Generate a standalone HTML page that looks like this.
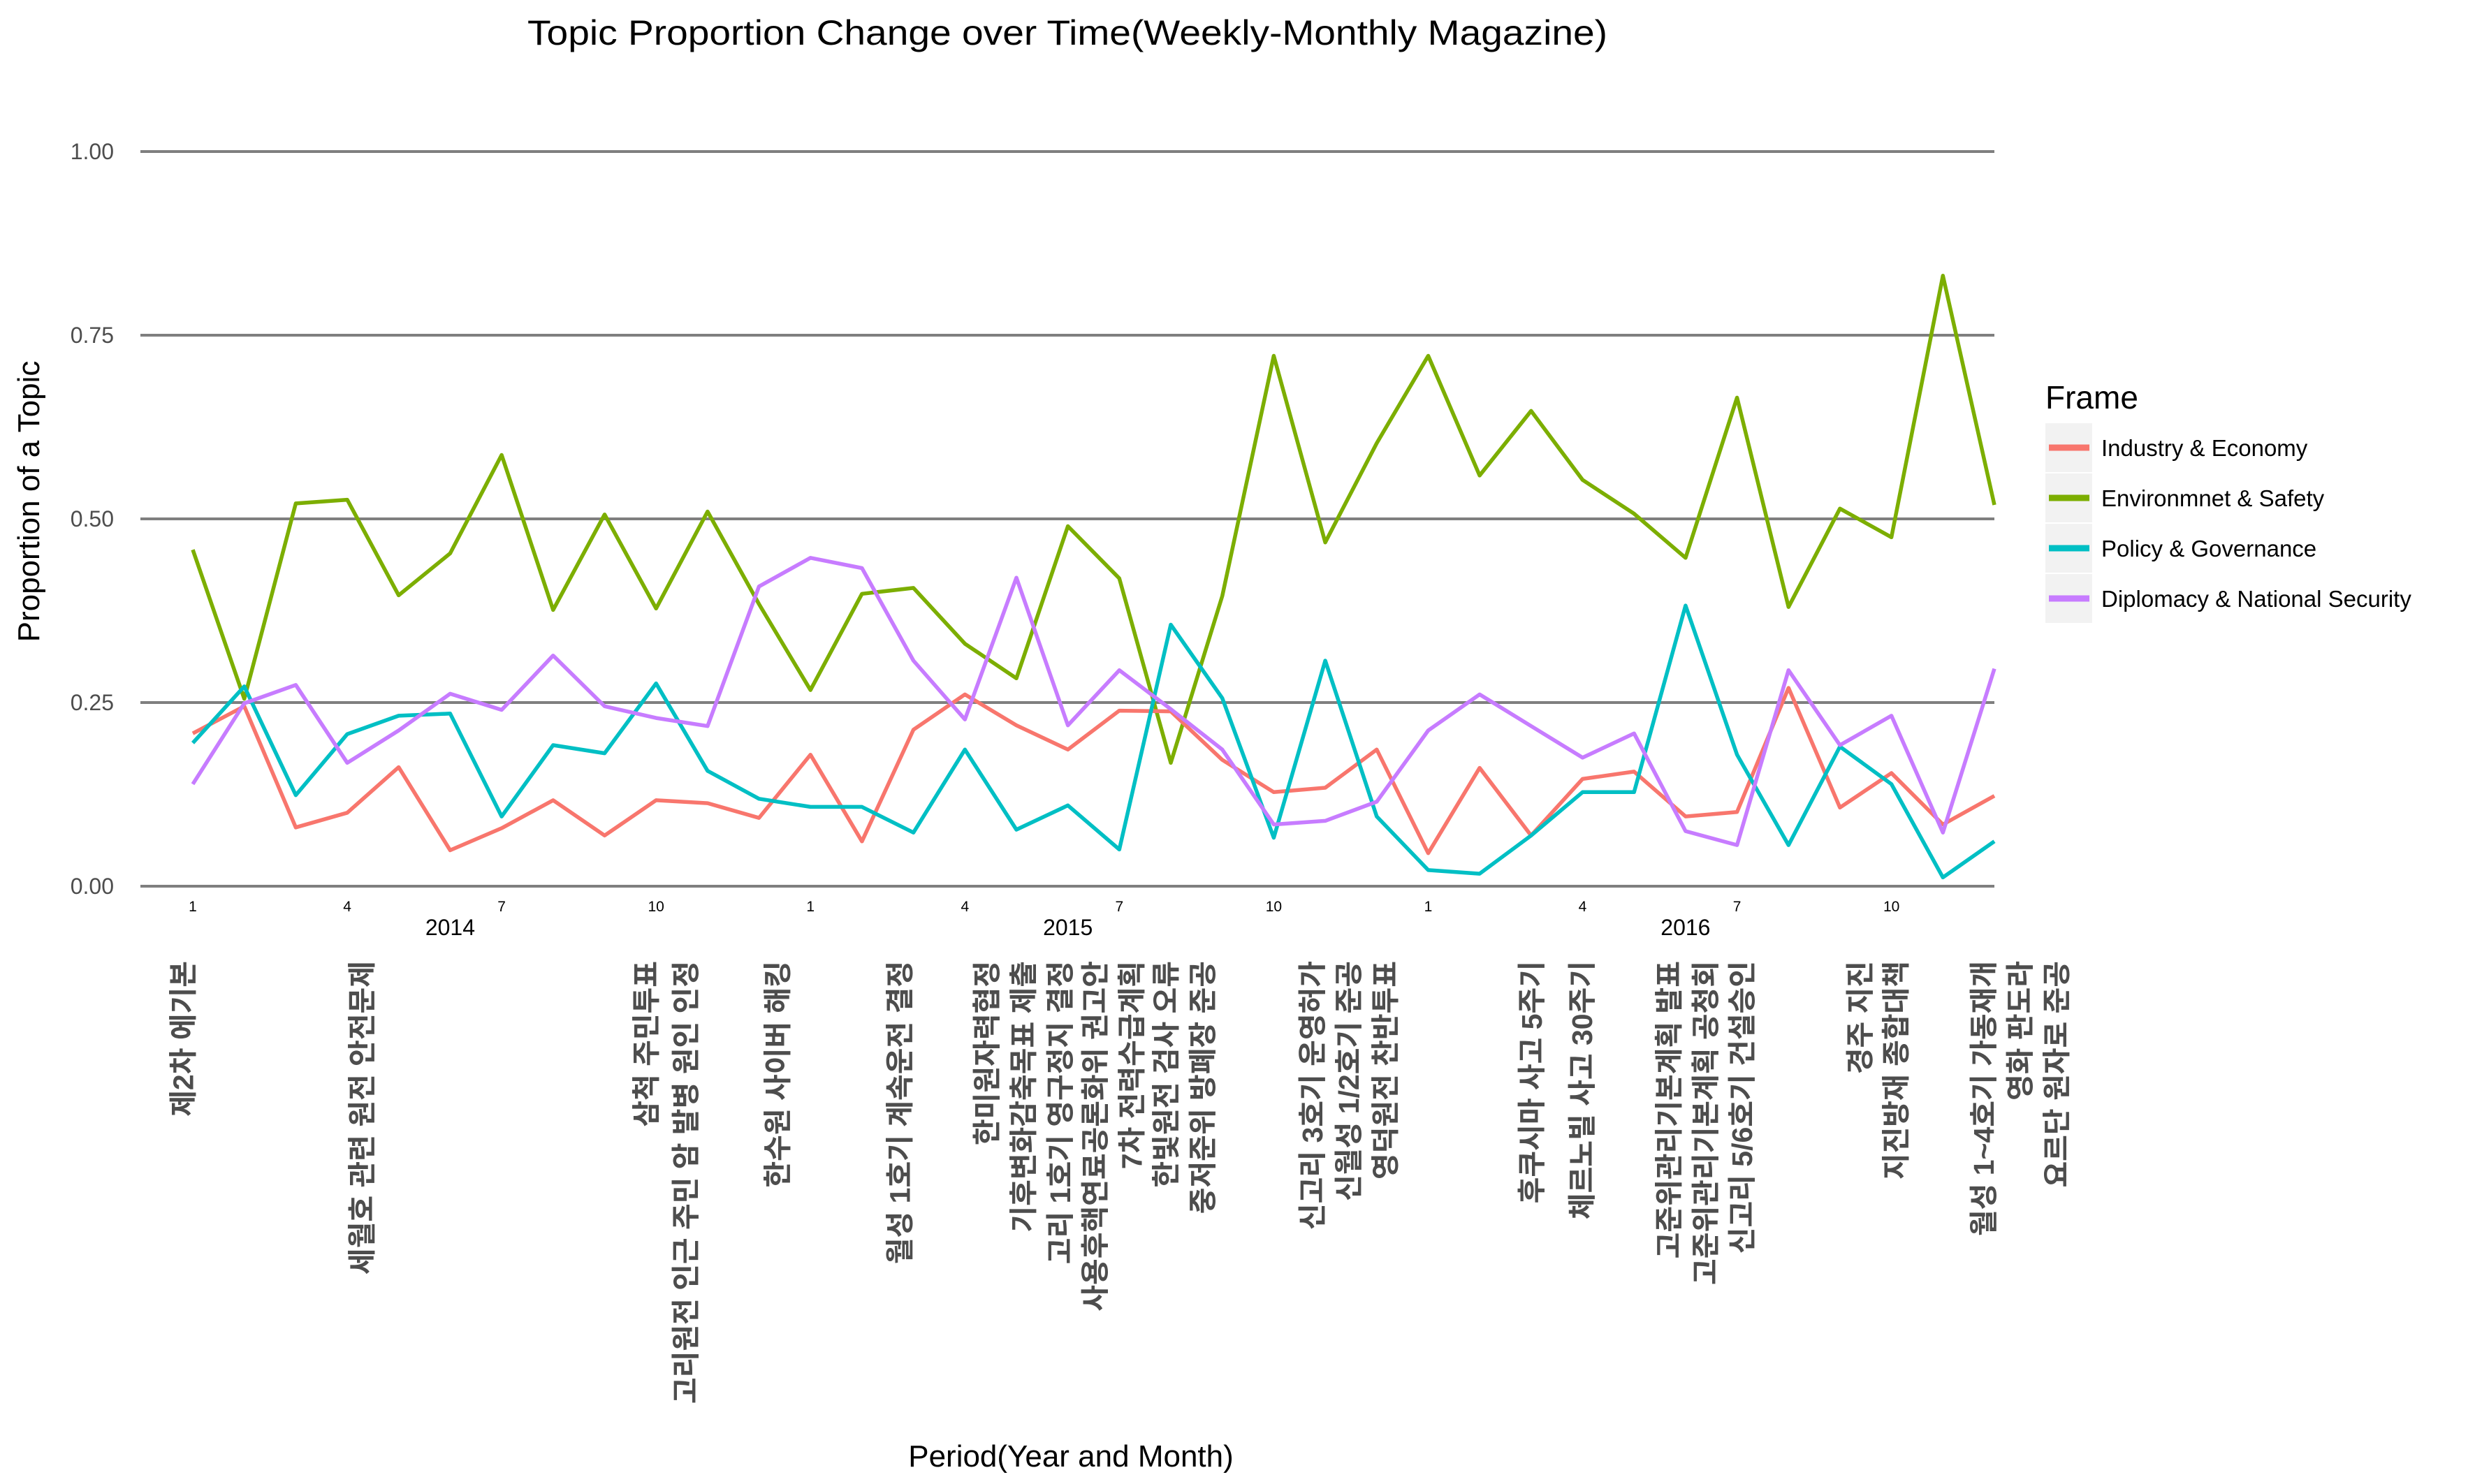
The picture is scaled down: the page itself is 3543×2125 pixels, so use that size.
<!DOCTYPE html>
<html><head><meta charset="utf-8"><style>
html,body{margin:0;padding:0;background:#fff}
svg{display:block}
text{font-family:"Liberation Sans","Noto Sans CJK KR",sans-serif}
</style></head><body>
<svg id="chart" width="3543" height="2125" viewBox="0 0 3543 2125" xmlns="http://www.w3.org/2000/svg">
<text x="1528" y="64" font-size="50" text-anchor="middle" fill="#000" textLength="1546" lengthAdjust="spacingAndGlyphs">Topic Proportion Change over Time(Weekly-Monthly Magazine)</text>
<g id="grid"></g>
<g id="yticks"></g>
<g id="xticks"></g>
<g id="series"></g>
<g id="events"></g>
<text transform="translate(56,718) rotate(-90)" font-size="44" text-anchor="middle" fill="#000">Proportion of a Topic</text>
<text x="1533" y="2100" font-size="44" text-anchor="middle" fill="#000">Period(Year and Month)</text>
<g id="legend">
<text x="2928" y="585" font-size="46" fill="#000">Frame</text>
</g>
</svg>
<script>
const months = ["1","","","4","","","7","","","10","","","1","","","4","","","7","","","10","","","1","","","4","","","7","","","10","",""];
const years = ["2014","2015","2016"];
const yearIdx = [5.0,17.0,29.0];
const yTicks = [0,0.25,0.5,0.75,1];
const yTickLabels = ["0.00","0.25","0.50","0.75","1.00"];
const seriesNames = ["Industry & Economy","Environmnet & Safety","Policy & Governance","Diplomacy & National Security"];
const seriesColors = ["#F8766D","#7CAE00","#00BFC4","#C77CFF"];
const industry = [0.208,0.245,0.080,0.100,0.162,0.049,0.079,0.117,0.069,0.117,0.113,0.093,0.179,0.061,0.213,0.261,0.219,0.186,0.239,0.238,0.172,0.128,0.134,0.186,0.045,0.161,0.069,0.146,0.156,0.095,0.101,0.270,0.107,0.154,0.084,0.123];
const environment = [0.458,0.255,0.521,0.526,0.396,0.453,0.587,0.376,0.506,0.378,0.510,0.384,0.267,0.398,0.406,0.330,0.283,0.490,0.419,0.168,0.395,0.722,0.468,0.603,0.722,0.559,0.647,0.553,0.507,0.447,0.665,0.380,0.514,0.475,0.831,0.519];
const policy = [0.195,0.272,0.124,0.207,0.232,0.235,0.095,0.192,0.181,0.276,0.157,0.119,0.108,0.108,0.073,0.186,0.077,0.110,0.050,0.356,0.256,0.066,0.307,0.095,0.022,0.017,0.069,0.128,0.128,0.382,0.179,0.056,0.190,0.139,0.012,0.061];
const diplomacy = [0.139,0.249,0.274,0.168,0.212,0.262,0.240,0.314,0.245,0.229,0.218,0.408,0.447,0.433,0.307,0.227,0.420,0.219,0.294,0.241,0.186,0.084,0.089,0.115,0.212,0.261,0.218,0.175,0.208,0.075,0.056,0.294,0.192,0.232,0.073,0.296];
const eventLabels = ["제2차 에기본","세월호 관련 원전 안전문제","삼척 주민투표","고리원전 인근 주민 암 발병 원인 인정","한수원 사이버 해킹","월성 1호기 계속운전 결정","한미원자력협정","기후변화감축목표 제출","고리 1호기 영구정지 결정","사용후핵연료공론화위 권고안","7차 전력수급계획","한빛원전 검사 오류","중저준위 방폐장 준공","신고리 3호기 운영허가","신월성 1/2호기 준공","영덕원전 찬반투표","후쿠시마 사고 5주기","체르노빌 사고 30주기","고준위관리기본계획 발표","고준위관리기본계획 공청회","신고리 5/6호기 건설승인","경주 지진","지진방재 종합대책","월성 1~4호기 가동재개","영화 판도라","요르단 원자로 준공"];
const eventPos = [-0.20,3.28,8.80,9.57,11.35,13.73,15.42,16.13,16.84,17.52,18.23,18.90,19.61,21.74,22.45,23.16,26.0,26.98,28.67,29.38,30.09,32.38,33.08,34.78,35.49,36.2];

const NS="http://www.w3.org/2000/svg";
const X0=276, DX=(2855-276)/35, Y0=1269, Y1=217, GX0=201, GX1=2855;
const xs=i=>X0+i*DX, ys=v=>Y0-(Y0-Y1)*v;
function mk(tag,attrs,parent,txt){const e=document.createElementNS(NS,tag);for(const k in attrs)e.setAttribute(k,attrs[k]);if(txt!==undefined)e.textContent=txt;parent.appendChild(e);return e;}
const grid=document.getElementById('grid'), yt=document.getElementById('yticks'), xt=document.getElementById('xticks'), sg=document.getElementById('series'), ev=document.getElementById('events'), lg=document.getElementById('legend');
yTicks.forEach((v,i)=>{
  const l=mk('line',{x1:GX0,x2:GX1,y1:ys(v),y2:ys(v),stroke:'#7f7f7f','stroke-width':4},grid);
  
  
  const t=mk('text',{x:163,y:ys(v)+11,'font-size':32,'text-anchor':'end',fill:'#4d4d4d'},yt,yTickLabels[i]);
  
  
});
months.forEach((m,i)=>{
  if(!m)return;
  const t=mk('text',{x:xs(i),y:1305,'font-size':21,'text-anchor':'middle',fill:'#000'},xt,m);
  
  
});
years.forEach((y,i)=>{
  const t=mk('text',{x:xs(yearIdx[i]),y:1339,'font-size':32,'text-anchor':'middle',fill:'#000'},xt,y);
  
  
});
const allSeries=[industry,environment,policy,diplomacy];
const order=[1,0,2,3];
order.forEach(s=>{
  const pts=allSeries[s].map((v,i)=>xs(i).toFixed(1)+','+ys(v).toFixed(1)).join(' ');
  const p=mk('polyline',{points:pts,fill:'none',stroke:seriesColors[s],'stroke-width':5.5,'stroke-linejoin':'round'},sg);
  
  
});
eventLabels.forEach((lab,i)=>{
  const x=xs(eventPos[i])+15;
  const t=mk('text',{transform:`translate(${x.toFixed(1)},1376) rotate(-90)`,'font-size':41,'font-weight':'bold','text-anchor':'end',fill:'#4d4d4d'},ev,lab);
  
  
});
seriesNames.forEach((n,i)=>{
  const cy=641+i*72;
  const r=mk('rect',{x:2928,y:cy-35,width:67,height:70,fill:'#f2f2f2'},lg);
  
  
  const l=mk('line',{x1:2933,x2:2991,y1:cy,y2:cy,stroke:seriesColors[i],'stroke-width':9},lg);
  
  
  const t=mk('text',{x:3008,y:cy+12,'font-size':33,fill:'#000'},lg,n);
  
  
});
</script>
</body></html>
